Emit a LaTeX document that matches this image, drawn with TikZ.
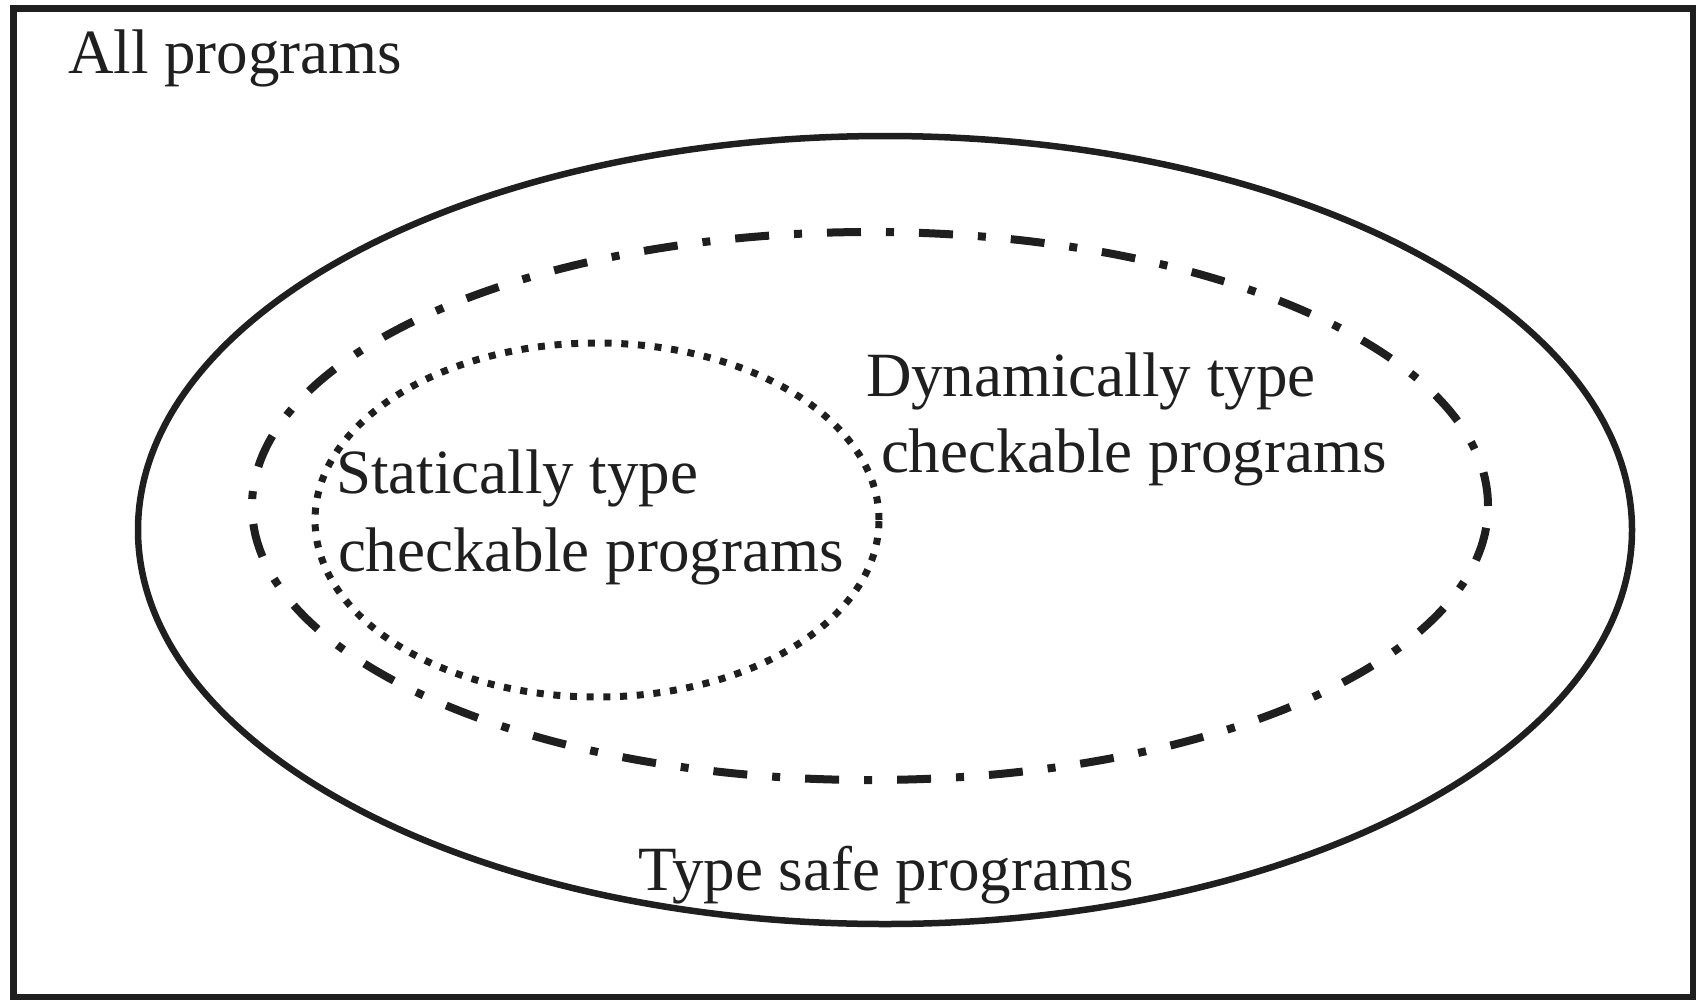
\documentclass[tikz,border=0pt]{standalone}
\usepackage{fontspec}
\setmainfont{Liberation Serif}
\tikzset{
  lbl/.style={anchor=base west, inner sep=0pt, outer sep=0pt, font=\fontsize{63}{77}\selectfont, text=black!88},
  frame/.style={draw=black!88, line width=7pt},
  solidell/.style={draw=black!88, line width=6.5pt},
  dashdotell/.style={draw=black!88, line width=8pt, dash pattern=on 34pt off 25pt on 8pt off 25pt},
  dotell/.style={draw=black!88, line width=7pt, dash pattern=on 7pt off 9.7pt}
}
\begin{document}
\begin{tikzpicture}[x=1pt,y=-1pt]
\useasboundingbox (0,0) rectangle (1696,999);
\begin{scope}
\clip (0,0) rectangle (1696,999);
\draw[frame] (13.5,8.5) rectangle (1693,997.5);
\end{scope}
\draw[solidell] (885,530) ellipse [x radius=747pt, y radius=394pt];
\draw[dashdotell] (870,506) ellipse [x radius=618pt, y radius=274pt];
\draw[dotell] (597,520) ellipse [x radius=282pt, y radius=177pt];
\node[lbl] (all) at (68,73) {All programs};
\node[lbl] (st1) at (336,493) {Statically type};
\node[lbl] (st2) at (338,571) {checkable programs};
\node[lbl] (dy1) at (866,396) {Dynamically type};
\node[lbl] (dy2) at (881,472) {checkable programs};
\node[lbl] (ts) at (638,890) {Type safe programs};
\end{tikzpicture}
\end{document}
